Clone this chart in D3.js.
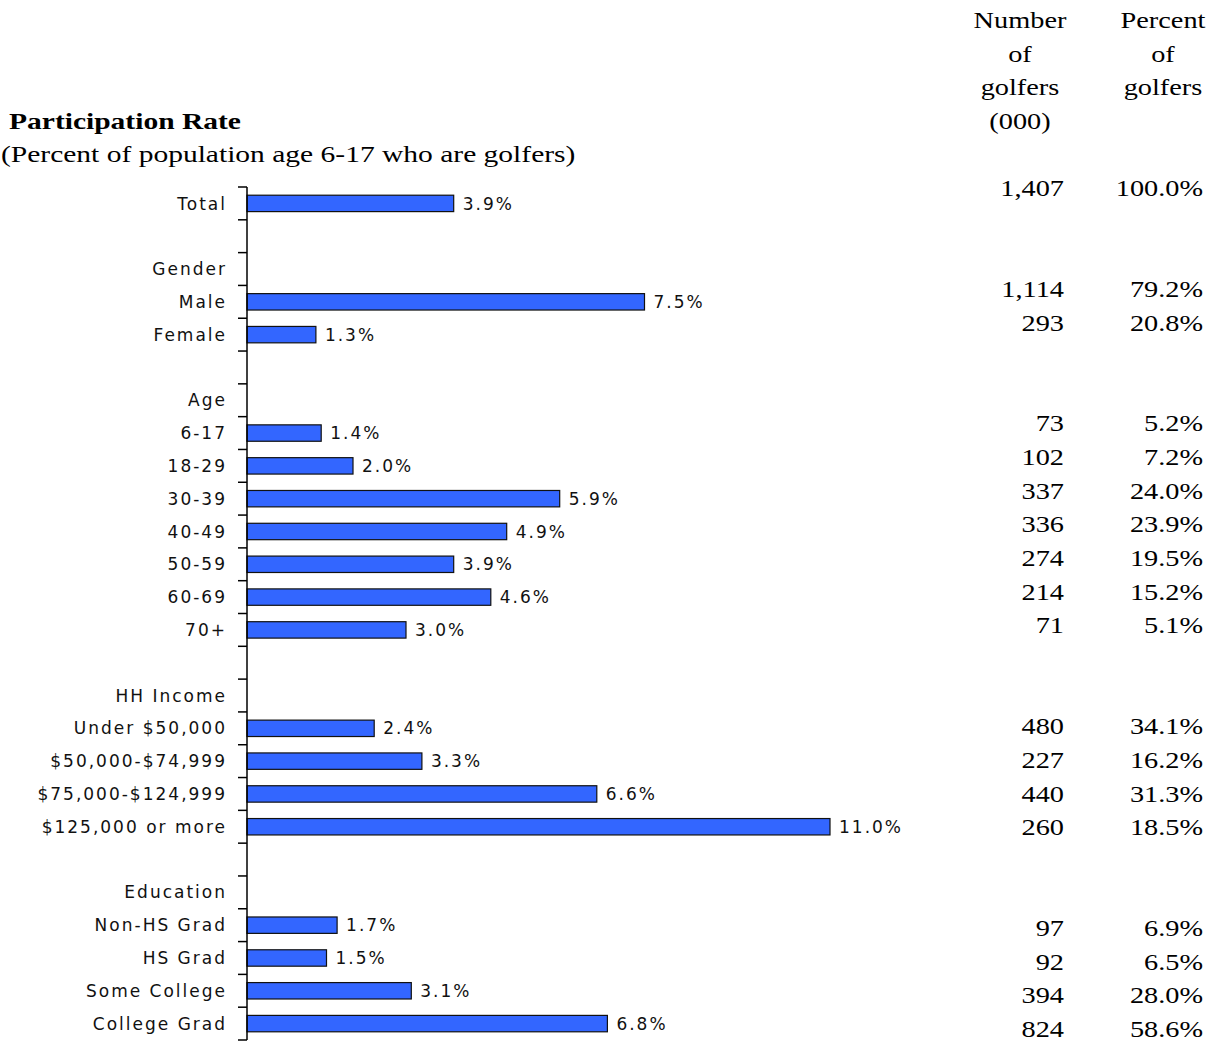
<!DOCTYPE html>
<html>
<head>
<meta charset="utf-8">
<script src="https://cdn.jsdelivr.net/npm/d3@7"></script>
<style>
  body { margin: 0; background: #fff; }
  .lbl { font-family: "DejaVu Sans", sans-serif; font-size: 17px; letter-spacing: 2px; fill: #111; }
  .serif { font-family: "Liberation Serif", "Times New Roman", serif; font-size: 24px; fill: #000; }
</style>
</head>
<body>
<div id="plot"></div>
<script>
// rows of the chart, blank strings are spacer rows
var categories = ["Total", "", "Gender", "Male", "Female", "", "Age", "6-17", "18-29", "30-39", "40-49",
  "50-59", "60-69", "70+", "", "HH Income", "Under $50,000", "$50,000-$74,999", "$75,000-$124,999",
  "$125,000 or more", "", "Education", "Non-HS Grad", "HS Grad", "Some College", "College Grad"];
// participation rate, %
var rates = [3.9, null, null, 7.5, 1.3, null, null, 1.4, 2.0, 5.9, 4.9, 3.9, 4.6, 3.0, null, null,
  2.4, 3.3, 6.6, 11.0, null, null, 1.7, 1.5, 3.1, 6.8];
// number of golfers (000)
var golfers = [1407, null, null, 1114, 293, null, null, 73, 102, 337, 336, 274, 214, 71, null, null,
  480, 227, 440, 260, null, null, 97, 92, 394, 824];
// percent of golfers
var pctGolfers = [100.0, null, null, 79.2, 20.8, null, null, 5.2, 7.2, 24.0, 23.9, 19.5, 15.2, 5.1, null, null,
  34.1, 16.2, 31.3, 18.5, null, null, 6.9, 6.5, 28.0, 58.6];
var headNumber = ["Number", "of", "golfers", "(000)"];
var headPercent = ["Percent", "of", "golfers"];

var W = 1216, H = 1044;
var stretch = 1.18; // serif text looks horizontally stretched

var svg = d3.select('#plot').append('svg')
  .attr('width', W).attr('height', H);

var idx = d3.range(categories.length);

var y = d3.scaleBand().domain(idx).range([187, 1040]).paddingInner(0.5).paddingOuter(0.25);
var yRow = d3.scaleBand().domain(idx).range([187, 1040]);
var yTable = d3.scalePoint().domain(idx).range([188, 1029]);
var x = d3.scaleLinear().domain([0, 11]).range([247, 830]);

// title
svg.append('text').attr('class', 'serif')
  .attr('transform', 'translate(9,129) scale(1.23,1)')
  .style('font-weight', 'bold')
  .text('Participation Rate');
svg.append('text').attr('class', 'serif')
  .attr('transform', 'translate(1,162) scale(1.23,1)')
  .text('(Percent of population age 6-17 who are golfers)');

// bars
var rows = idx.map(function (i) { return {i: i, cat: categories[i], v: rates[i]}; });

svg.selectAll('rect.bar')
  .data(rows.filter(function (d) { return d.v != null; }))
  .enter().append('rect')
  .attr('class', 'bar')
  .attr('x', x(0))
  .attr('y', function (d) { return y(d.i); })
  .attr('width', function (d) { return x(d.v) - x(0); })
  .attr('height', y.bandwidth())
  .style('fill', '#3366ff')
  .style('stroke', '#111')
  .style('stroke-width', 1.2);

svg.selectAll('text.val')
  .data(rows.filter(function (d) { return d.v != null; }))
  .enter().append('text')
  .attr('class', 'lbl')
  .attr('x', function (d) { return x(d.v) + 9; })
  .attr('y', function (d) { return y(d.i) + y.bandwidth() / 2; })
  .attr('dy', '0.36em')
  .text(function (d) { return d.v.toFixed(1) + '%'; });

// category axis
svg.append('line')
  .attr('x1', x(0)).attr('x2', x(0))
  .attr('y1', yRow.range()[0]).attr('y2', yRow.range()[1])
  .style('stroke', '#000').style('stroke-width', 1.5);

var tickYs = idx.map(function (i) { return yRow(i); }).concat([yRow.range()[1]]);
svg.selectAll('line.tick')
  .data(tickYs)
  .enter().append('line')
  .attr('x1', x(0) - 9).attr('x2', x(0))
  .attr('y1', function (d) { return d; }).attr('y2', function (d) { return d; })
  .style('stroke', '#000').style('stroke-width', 1.5);

svg.selectAll('text.cat')
  .data(rows.filter(function (d) { return d.cat !== ''; }))
  .enter().append('text')
  .attr('class', 'lbl')
  .attr('text-anchor', 'end')
  .attr('x', 227)
  .attr('y', function (d) { return yRow(d.i) + yRow.bandwidth() / 2; })
  .attr('dy', '0.36em')
  .text(function (d) { return d.cat; });

// table on the right
function serifText(tx, ty, anchor, s) {
  svg.append('text').attr('class', 'serif')
    .attr('text-anchor', anchor)
    .attr('transform', 'translate(' + tx + ',' + ty + ') scale(' + stretch + ',1)')
    .text(s);
}

var step = yTable.step();
headNumber.forEach(function (s, k) { serifText(1020, 28 + k * step, 'middle', s); });
headPercent.forEach(function (s, k) { serifText(1163, 28 + k * step, 'middle', s); });

var fmt = d3.format(',');
idx.forEach(function (i) {
  if (golfers[i] == null) return;
  serifText(1064, yTable(i) + 8, 'end', fmt(golfers[i]));
  serifText(1203, yTable(i) + 8, 'end', pctGolfers[i].toFixed(1) + '%');
});
</script>
</body>
</html>
